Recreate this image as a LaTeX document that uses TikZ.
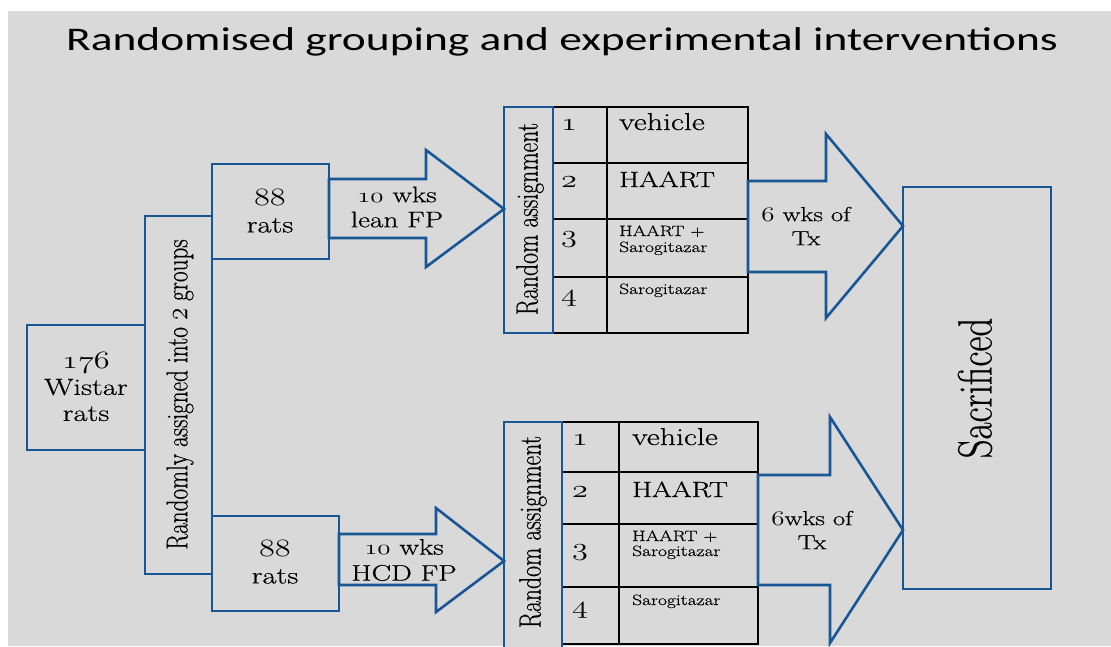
\documentclass[tikz,border=0pt]{standalone}
\usepackage{fontspec}
\usepackage{graphicx}
\setmainfont{Latin Modern Roman}[FakeBold=0.45]
\newfontfamily\titlefont{Carlito}
\newcommand\osn[1]{{\fontencoding{OML}\fontfamily{lmm}\fontseries{m}\fontshape{it}\selectfont #1}}
\newcommand\wx[1]{\scalebox{1.3}[1]{#1}}
\newcommand\vx[1]{\scalebox{1}[1.3]{#1}}
\definecolor{bl}{RGB}{24,86,150}
\definecolor{bg}{RGB}{217,217,217}
\begin{document}
\begin{tikzpicture}[x=1pt,y=-1pt,
  bx/.style={draw=bl, line width=2.6pt, fill=bg, inner sep=0pt, outer sep=0pt},
  arr/.style={draw=bl, line width=2.6pt, fill=bg, line join=miter},
  tl/.style={draw=black, line width=1.4pt},
  big/.style={font=\fontsize{23.5}{26}\selectfont, align=center, inner sep=0pt},
  lab/.style={font=\fontsize{22.5}{25}\selectfont, align=center, inner sep=0pt},
  cell/.style={font=\fontsize{22}{24}\selectfont, inner sep=0pt, anchor=base west},
  vcell/.style={font=\fontsize{24.5}{24}\selectfont, inner sep=0pt, anchor=base west},
  small/.style={font=\fontsize{15}{16}\selectfont, inner sep=0pt, anchor=base west},
  num/.style={font=\fontsize{25}{25}\selectfont, inner sep=0pt, anchor=base}]
\useasboundingbox (0,0) rectangle (1111,646);
\fill[white] (0,0) rectangle (1111,646);
\fill[bg] (8,11) rectangle (1111,646);

% title
\node[font=\titlefont\fontsize{33}{36}\selectfont, inner sep=0pt] (title) at (562,42) {\scalebox{1.377}[1]{Randomised grouping and experimental interventions}};

% left boxes
\node[bx, minimum width=118pt, minimum height=125pt] (wistar) at (86,387.5) {};
\node[big] (wistart) at (86,387) {\wx{\osn{176}}\\\wx{Wistar}\\\wx{rats}};
\node[bx, minimum width=67pt, minimum height=358pt] (rand) at (178.5,395) {};
\node[inner sep=0pt, rotate=90, font=\fontsize{23.2}{24}\selectfont] (randt) at (180,394.5) {\vx{Randomly assigned into \osn{2} groups}};
\node[bx, minimum width=117pt, minimum height=95pt] (r88a) at (270.5,211.5) {};
\node[big, font=\fontsize{23.5}{27}\selectfont] (r88at) at (270,211) {\wx{\osn{88}}\\\wx{rats}};
\node[bx, minimum width=127pt, minimum height=95pt] (r88b) at (275.5,563.5) {};
\node[big, font=\fontsize{23.5}{27}\selectfont] (r88bt) at (275,562) {\wx{\osn{88}}\\\wx{rats}};

% tables
\draw[tl] (553,107) rectangle (748,333);
\draw[tl] (607,107) -- (607,333);
\foreach \yy in {163,219,277} \draw[tl] (553,\yy) -- (748,\yy);
\draw[tl] (562,422) rectangle (758,644);
\draw[tl] (619,422) -- (619,644);
\foreach \yy in {472,524,587} \draw[tl] (562,\yy) -- (758,\yy);

% table texts top
\node[num] (n1a) at (569,130) {\wx{\osn{1}}};
\node[num] (n2a) at (569,187) {\wx{\osn{2}}};
\node[num] (n3a) at (569,242) {\wx{\osn{3}}};
\node[num] (n4a) at (569,301) {\wx{\osn{4}}};
\node[vcell] (veha) at (619,130) {\wx{vehicle}};
\node[cell] (haa) at (619,187) {\wx{HAART}};
\node[small] (hsa1) at (619,236) {\wx{HAART +}};
\node[small] (hsa2) at (619,252) {\wx{Sarogitazar}};
\node[small] (sa) at (619,294) {\wx{Sarogitazar}};
% table texts bottom
\node[num] (n1b) at (580,445) {\wx{\osn{1}}};
\node[num] (n2b) at (580,497) {\wx{\osn{2}}};
\node[num] (n3b) at (580,555) {\wx{\osn{3}}};
\node[num] (n4b) at (580,613) {\wx{\osn{4}}};
\node[vcell] (vehb) at (632,445) {\wx{vehicle}};
\node[cell] (hab) at (632,497) {\wx{HAART}};
\node[small] (hsb1) at (632,541) {\wx{HAART +}};
\node[small] (hsb2) at (632,556) {\wx{Sarogitazar}};
\node[small] (sb) at (632,605) {\wx{Sarogitazar}};

% random assignment boxes
\node[bx, minimum width=49pt, minimum height=226pt] (ra1) at (528.5,220) {};
\node[inner sep=0pt, rotate=90, font=\fontsize{23.7}{24}\selectfont] (ra1t) at (530,219) {\vx{Random assignment}};
\node[bx, minimum width=58pt, minimum height=240pt] (ra2) at (533,542) {};
\node[inner sep=0pt, rotate=90, font=\fontsize{23.7}{24}\selectfont] (ra2t) at (533,532) {\vx{Random assignment}};

% sacrificed
\node[bx, minimum width=148pt, minimum height=402pt] (sac) at (977,388) {};
\node[inner sep=0pt, rotate=90, font=\fontsize{37}{37}\selectfont] (sact) at (975,388) {\vx{Sacrificed}};

% block arrows
\draw[arr] (r88a.east |- 0,179) -- (426,179) -- (426,150) -- (ra1.west |- 0,209) -- (426,267) -- (426,238) -- (r88a.east |- 0,238) -- cycle;
\draw[arr] (r88b.east |- 0,534) -- (436,534) -- (436,508) -- (ra2.west |- 0,561) -- (436,612) -- (436,585) -- (r88b.east |- 0,585) -- cycle;
\draw[arr] (748,181) -- (826,181) -- (826,134) -- (sac.west |- 0,226) -- (826,318) -- (826,272) -- (748,272) -- cycle;
\draw[arr] (758,475) -- (830,475) -- (830,417) -- (sac.west |- 0,530) -- (830,643) -- (830,585) -- (758,585) -- cycle;
\draw[bl, line width=2.6pt] (sac.north west) -- (sac.south west);

% arrow labels
\node[lab] (l1) at (397,207) {\wx{\osn{10} wks}\\\wx{lean FP}};
\node[lab, font=\fontsize{22.5}{26}\selectfont] (l2) at (404,560) {\wx{\osn{10} wks}\\\wx{HCD FP}};
\node[lab, font=\fontsize{20.5}{24}\selectfont] (l3) at (806,226) {\wx{\osn{6} wks of}\\\wx{Tx}};
\node[lab, font=\fontsize{20.5}{24}\selectfont] (l4) at (812,530) {\wx{\osn{6}wks of}\\\wx{Tx}};
\end{tikzpicture}
\end{document}
